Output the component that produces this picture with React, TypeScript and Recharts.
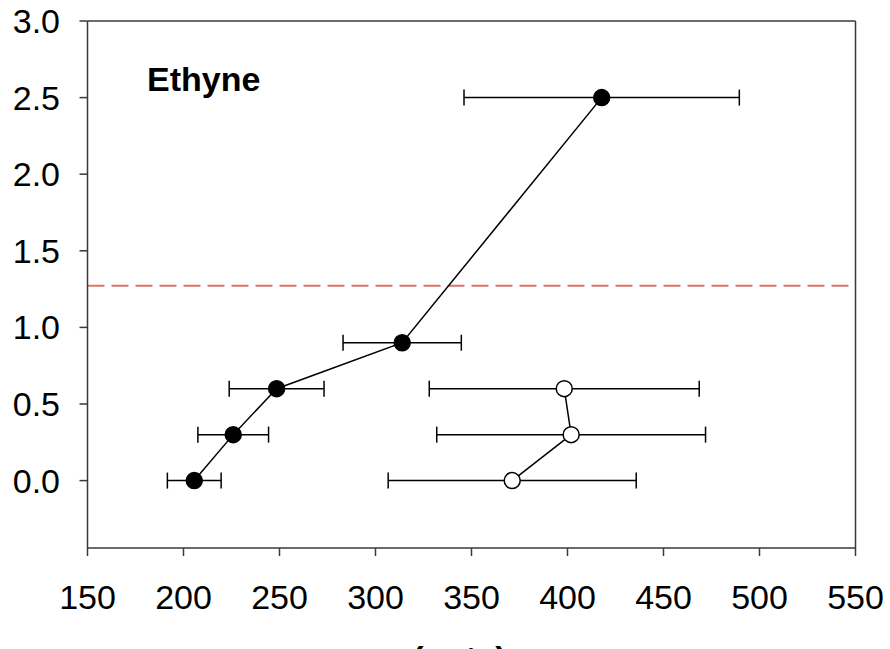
import React from 'react'
import { ScatterChart, Scatter, XAxis, YAxis, ErrorBar, ReferenceLine } from 'recharts'

// filled circles (first series)
const filledX = [205.6, 225.9, 248.5, 313.9, 417.8]
const filledY = [0, 0.3, 0.6, 0.9, 2.5]
const filledErr = [14, 18.4, 24.7, 30.8, 71.7]

// open circles (second series)
const openX = [371.2, 401.9, 398.3]
const openY = [0, 0.3, 0.6]
const openErr = [64.6, 70, 70.3]

const xTicks = [150, 200, 250, 300, 350, 400, 450, 500, 550]
const yTicks = [0, 0.5, 1.0, 1.5, 2.0, 2.5, 3.0]
const xDomain = [150, 550]
const yDomain = [-0.44, 3]
const thresholdY = 1.272

const filledData = filledX.map((x, i) => ({ x, y: filledY[i], err: filledErr[i] }))
const openData = openX.map((x, i) => ({ x, y: openY[i], err: openErr[i] }))

const axisColor = '#3a3a3a'
const fontFamily = 'Liberation Sans, Arial, sans-serif'
const tickFont = { fill: '#000', fontSize: 34, fontFamily }

const Dot = (fill: string) => (props: any) => {
  const { cx, cy } = props
  if (cx == null || cy == null) return <g />
  return <circle cx={cx} cy={cy} r={8} fill={fill} stroke="#000" strokeWidth={1.5} />
}

const App: React.FC = () => {
  return (
    <div style={{ position: 'absolute', left: 0, top: 0, width: 890, height: 649, background: '#fff' }}>
      <ScatterChart width={890} height={649} margin={{ top: 21, right: 34.5, bottom: 11, left: 0 }}>
        <XAxis
          type="number"
          dataKey="x"
          domain={xDomain}
          ticks={xTicks}
          allowDataOverflow
          height={90}
          tickSize={8}
          tickMargin={29}
          stroke={axisColor}
          strokeWidth={1.5}
          tick={tickFont}
          label={{
            value: '(pptv)',
            position: 'bottom',
            offset: 8,
            dx: -12,
            fill: '#000',
            fontSize: 34,
            fontWeight: 'bold',
            fontFamily,
          }}
        />
        <YAxis
          type="number"
          dataKey="y"
          domain={yDomain}
          ticks={yTicks}
          allowDataOverflow
          width={87.5}
          tickSize={8}
          tickMargin={19.5}
          stroke={axisColor}
          strokeWidth={1.5}
          tick={tickFont}
          tickFormatter={(v: number) => v.toFixed(1)}
        />
        {/* frame: top and right edges */}
        <ReferenceLine y={yDomain[1]} stroke={axisColor} strokeWidth={1.5} />
        <ReferenceLine x={xDomain[1]} stroke={axisColor} strokeWidth={1.5} />
        <ReferenceLine y={thresholdY} stroke="#d9756e" strokeWidth={2} strokeDasharray="17 7" />
        <Scatter
          data={filledData}
          line={{ stroke: '#000', strokeWidth: 1.5 }}
          lineType="joint"
          shape={Dot('#000')}
          isAnimationActive={false}
        >
          <ErrorBar dataKey="err" direction="x" width={8} stroke="#000" strokeWidth={1.5} isAnimationActive={false} />
        </Scatter>
        <Scatter
          data={openData}
          line={{ stroke: '#000', strokeWidth: 1.5 }}
          lineType="joint"
          shape={Dot('#fff')}
          isAnimationActive={false}
        >
          <ErrorBar dataKey="err" direction="x" width={8} stroke="#000" strokeWidth={1.5} isAnimationActive={false} />
        </Scatter>
      </ScatterChart>
      <div
        style={{
          position: 'absolute',
          left: 147,
          top: 59,
          fontFamily,
          fontWeight: 'bold',
          fontSize: 34,
          lineHeight: '40px',
          color: '#000',
        }}
      >
        Ethyne
      </div>
    </div>
  )
}

export default App
